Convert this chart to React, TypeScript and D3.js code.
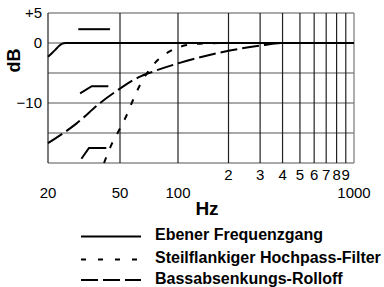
import React, { useEffect, useRef } from 'react';
import * as d3 from 'd3';

// frequency response curves, [Hz, dB]
const flatResponse: [number, number][] = [
  [20, -2.3], [21, -1.7], [22, -1.1], [23, -0.5], [24, -0.1], [25, 0], [1000, 0],
];
const highPassFilter: [number, number][] = [
  [40.8, -20], [44.6, -17.1], [48.9, -14.8], [54.2, -12], [58.4, -9.5], [63.5, -7],
  [69.8, -4.8], [78.8, -2.8], [93, -1.2], [113, -0.35], [150, -0.05], [200, 0], [400, 0],
];
const bassRolloff: [number, number][] = [
  [20, -16.7], [28.8, -13.4], [38.8, -10], [50, -7.6], [63.5, -5.6], [71.5, -4.95],
  [100, -3.4], [200, -1.3], [300, -0.45], [400, 0], [500, 0],
];

// little switch symbols drawn inside the plot
const flatIcon: [number, number][] = [[29.4, 2.3], [44, 2.3]];
const rolloffIcon: [number, number][] = [[30.1, -8.4], [34.9, -7.2], [43.1, -7.2]];
const highPassIcon: [number, number][] = [[30.6, -19.3], [33.7, -17.5], [42, -17.5]];

const freqGrid = [20, 50, 100, 200, 300, 400, 500, 600, 700, 800, 900, 1000];
const bigTicks = [20, 50, 100, 1000];
const smallTicks = [200, 300, 400, 500, 600, 700, 800, 900];
const smallTickLabels = ['2', '3', '4', '5', '6', '7', '8', '9'];
const dbGrid = [5, 0, -5, -10, -15, -20];
const dbTicks = [5, 0, -10];
const dbTickLabels = ['+5', '0', '\u221210'];

const legendLabels = ['Ebener Frequenzgang', 'Steilflankiger Hochpass-Filter', 'Bassabsenkungs-Rolloff'];
const legendDashes = ['none', '5,12', '17,5'];

const W = 384;
const H = 287;
const font = 'Liberation Sans, Arial, sans-serif';

export default function App() {
  const ref = useRef<SVGSVGElement>(null);

  useEffect(() => {
    const svg = d3.select(ref.current);
    svg.selectAll('*').remove();

    // the printed grid is not perfectly logarithmic, so a piecewise log scale
    const x = d3.scaleLog().domain([20, 50, 100, 200, 1000]).range([48, 120, 178, 228.5, 354]);
    const y = d3.scaleLinear().domain([-20, 5]).range([163, 13]);

    const grid = svg.append('g');
    grid.selectAll('line.h')
      .data(dbGrid)
      .join('line')
      .attr('class', 'h')
      .attr('x1', x(20)).attr('x2', x(1000))
      .attr('y1', d => y(d)).attr('y2', d => y(d))
      .attr('stroke', '#555').attr('stroke-width', 1.2);
    grid.selectAll('line.v')
      .data(freqGrid)
      .join('line')
      .attr('class', 'v')
      .attr('x1', d => x(d)).attr('x2', d => x(d))
      .attr('y1', y(5)).attr('y2', y(-20))
      .attr('stroke', d => (d === 1000 ? '#777' : '#222')).attr('stroke-width', 1.2);

    const line = d3.line<[number, number]>()
      .x(d => x(d[0]))
      .y(d => y(d[1]))
      .curve(d3.curveMonotoneX);

    const curves = [
      { data: bassRolloff, dash: '17,5' },
      { data: highPassFilter, dash: '6,10' },
      { data: flatResponse, dash: 'none' },
    ];
    svg.selectAll('path.curve')
      .data(curves)
      .join('path')
      .attr('class', 'curve')
      .attr('d', d => line(d.data))
      .attr('fill', 'none')
      .attr('stroke', '#000')
      .attr('stroke-width', 2)
      .attr('stroke-dasharray', d => d.dash);

    const iconLine = d3.line<[number, number]>().x(d => x(d[0])).y(d => y(d[1]));
    svg.selectAll('path.icon')
      .data([flatIcon, rolloffIcon, highPassIcon])
      .join('path')
      .attr('class', 'icon')
      .attr('d', d => iconLine(d))
      .attr('fill', 'none')
      .attr('stroke', '#000')
      .attr('stroke-width', 2);

    // y labels
    svg.selectAll('text.ytick')
      .data(dbTicks)
      .join('text')
      .attr('class', 'ytick')
      .attr('x', 42)
      .attr('y', d => y(d))
      .attr('dy', '0.36em')
      .attr('text-anchor', 'end')
      .style('font', `15px ${font}`)
      .text((d, i) => dbTickLabels[i]);

    svg.append('text')
      .attr('transform', `translate(19.5,${y(-2.9)}) rotate(-90)`)
      .attr('text-anchor', 'middle')
      .style('font', `bold 18px ${font}`)
      .text('dB');

    // x labels, two rows like the original
    svg.selectAll('text.xsmall')
      .data(smallTicks)
      .join('text')
      .attr('class', 'xsmall')
      .attr('x', d => x(d))
      .attr('y', 180)
      .attr('text-anchor', 'middle')
      .style('font', `15px ${font}`)
      .text((d, i) => smallTickLabels[i]);
    svg.selectAll('text.xbig')
      .data(bigTicks)
      .join('text')
      .attr('class', 'xbig')
      .attr('x', d => x(d))
      .attr('y', 197.5)
      .attr('text-anchor', 'middle')
      .style('font', `15px ${font}`)
      .text(d => d);

    svg.append('text')
      .attr('x', 207)
      .attr('y', 215)
      .attr('text-anchor', 'middle')
      .style('font', `bold 19px ${font}`)
      .text('Hz');

    // legend
    const rowY = [236.5, 259.5, 280];
    const leg = svg.selectAll('g.leg')
      .data(legendLabels)
      .join('g')
      .attr('class', 'leg')
      .attr('transform', (d, i) => `translate(0,${rowY[i]})`);
    leg.append('line')
      .attr('x1', 81).attr('x2', 141)
      .attr('stroke', '#000')
      .attr('stroke-width', 2)
      .attr('stroke-dasharray', (d, i) => legendDashes[i]);
    leg.append('text')
      .attr('x', 155)
      .attr('y', 3.5)
      .style('font', `bold 16px ${font}`)
      .text(d => d);
  }, []);

  return (
    <svg
      ref={ref}
      width={W}
      height={H}
      style={{ position: 'absolute', left: 0, top: 0, background: '#fff' }}
    />
  );
}
